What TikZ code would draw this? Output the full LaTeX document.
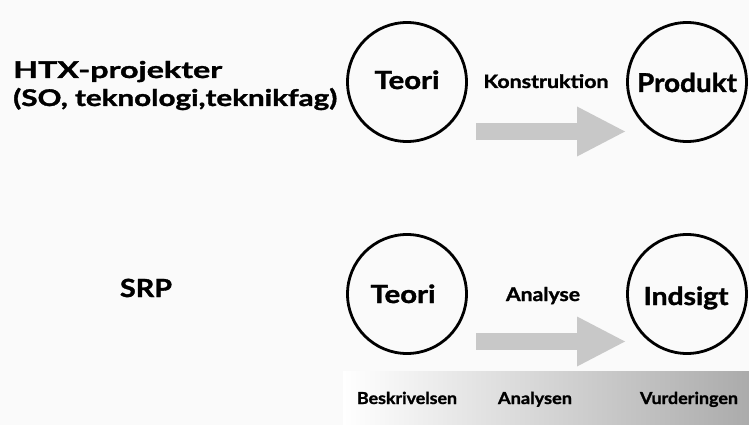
\documentclass[tikz,border=0pt]{standalone}
\usepackage{fontspec}
\usepackage{graphicx}
\setmainfont{Lato}[BoldFeatures={FakeBold=1.3}]
\usetikzlibrary{arrows.meta}
\newcommand{\fitw}[2]{\resizebox{#1}{\height}{#2}}
\definecolor{bgc}{HTML}{FAFAFA}
\definecolor{arrc}{HTML}{C8C8C8}
\definecolor{bandr}{HTML}{ABABAB}
\tikzset{
  stage/.style={circle, draw=black, line width=2.8pt, minimum size=119pt, inner sep=0pt},
  lbl/.style={inner sep=0pt, font=\bfseries},
  fatarrow/.style={draw=arrc, line width=17pt, -{Triangle[length=48pt,width=50pt,line width=0pt]}},
}
\begin{document}
\begin{tikzpicture}[x=1pt,y=-1pt]
\useasboundingbox (0,0) rectangle (749,425);
\fill[bgc] (0,0) rectangle (749,425);
% gradient band
\shade[left color=white, right color=bandr] (343,371) rectangle (749,425);

% row 1
\node[lbl, anchor=base west, font=\bfseries\fontsize{23}{26}\selectfont] (htx1) at (13,78) {\fitw{209pt}{HTX-projekter}};
\node[lbl, anchor=base west, font=\bfseries\fontsize{23}{26}\selectfont] (htx2) at (13,106) {\fitw{324pt}{(SO, teknologi,teknikfag)}};

\node[stage] (teori1) at (407,82) {};
\node[lbl, anchor=base, font=\bfseries\fontsize{25}{28}\selectfont] (teori1t) at (407,89) {\fitw{65pt}{Teori}};
\node[stage] (produkt) at (687,82) {};
\node[lbl, anchor=base, font=\bfseries\fontsize{26}{28}\selectfont] (produktt) at (687,92) {\fitw{100pt}{Produkt}};
\node[lbl, anchor=base, font=\bfseries\fontsize{18.5}{22}\selectfont] (konst) at (546,88) {\fitw{125pt}{Konstruktion}};

\coordinate (a1s) at (476,131.5);
\coordinate (a1e) at (625,131.5);
\draw[fatarrow] (a1s) -- (a1e);

% row 2
\node[lbl, anchor=base, font=\bfseries\fontsize{25}{28}\selectfont] (srp) at (146,297) {\fitw{52pt}{SRP}};
\node[stage] (teori2) at (407,294) {};
\node[lbl, anchor=base, font=\bfseries\fontsize{25}{28}\selectfont] (teori2t) at (403,303) {\fitw{65pt}{Teori}};
\node[stage] (indsigt) at (687,294) {};
\node[lbl, anchor=base, font=\bfseries\fontsize{25}{28}\selectfont] (indsigtt) at (686,305) {\fitw{85pt}{Indsigt}};
\node[lbl, anchor=base, font=\bfseries\fontsize{19}{22}\selectfont] (analyse) at (543,301) {\fitw{74pt}{Analyse}};

\coordinate (a2s) at (476,341.5);
\coordinate (a2e) at (625,341.5);
\draw[fatarrow] (a2s) -- (a2e);

% band labels
\node[lbl, anchor=base, font=\bfseries\fontsize{16.5}{20}\selectfont] (besk) at (407,404) {\fitw{100pt}{Beskrivelsen}};
\node[lbl, anchor=base, font=\bfseries\fontsize{16.5}{20}\selectfont] (analysen) at (535,404) {\fitw{74pt}{Analysen}};
\node[lbl, anchor=base, font=\bfseries\fontsize{16.5}{20}\selectfont] (vurd) at (689,404) {\fitw{98pt}{Vurderingen}};
\end{tikzpicture}
\end{document}
